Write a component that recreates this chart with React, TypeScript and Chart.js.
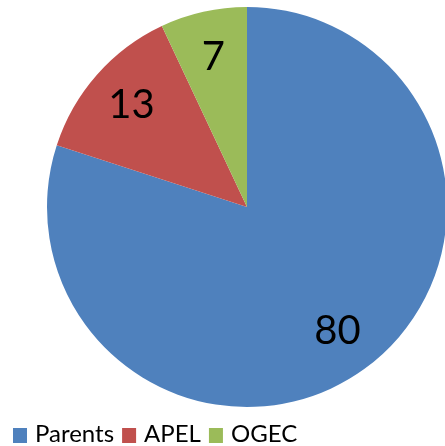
import React, { useEffect, useRef } from "react";
import { Chart, registerables } from "chart.js";

Chart.register(...registerables);

const categories = ["Parents", "APEL", "OGEC"];
const values = [80, 13, 7];
const colors = ["#4F81BD", "#C0504D", "#9BBB59"];

const FONT = "Lato, 'Open Sans', sans-serif";

const labelPlugin = {
  id: "sliceLabels",
  afterDatasetsDraw(chart: any) {
    const ctx = chart.ctx;
    const meta = chart.getDatasetMeta(0);
    ctx.save();
    ctx.fillStyle = "#000";
    ctx.font = `40px ${FONT}`;
    ctx.textAlign = "center";
    ctx.textBaseline = "middle";
    meta.data.forEach((arc: any, i: number) => {
      const { x, y, startAngle, endAngle, outerRadius } = arc.getProps(
        ["x", "y", "startAngle", "endAngle", "outerRadius"],
        true
      );
      const mid = (startAngle + endAngle) / 2;
      const r = outerRadius * 0.77;
      ctx.fillText(String(values[i]), x + Math.cos(mid) * r, y + Math.sin(mid) * r);
    });
    ctx.restore();
  },
};

const legendPlugin = {
  id: "bottomLegend",
  afterDraw(chart: any) {
    const ctx = chart.ctx;
    ctx.save();
    ctx.font = `24px ${FONT}`;
    ctx.textBaseline = "alphabetic";
    ctx.textAlign = "left";
    let x = 13;
    const boxTop = 428;
    const box = 14;
    const baseline = 442;
    categories.forEach((lab, i) => {
      ctx.fillStyle = colors[i];
      ctx.fillRect(x, boxTop, box, box + 1);
      x += box + 8;
      ctx.fillStyle = "#000";
      ctx.fillText(lab, x, baseline);
      x += ctx.measureText(lab).width + 8;
    });
    ctx.restore();
  },
};

export default function App() {
  const ref = useRef<HTMLCanvasElement>(null);
  useEffect(() => {
    if (!ref.current) return;
    const chart = new Chart(ref.current, {
      type: "pie",
      data: {
        labels: categories,
        datasets: [
          {
            data: values,
            backgroundColor: colors,
            borderWidth: 0,
          },
        ],
      },
      options: {
        responsive: false,
        animation: false,
        layout: { padding: { left: 47, right: 3, top: 7, bottom: 39 } },
        plugins: {
          legend: { display: false },
          tooltip: { enabled: false },
        },
      },
      plugins: [labelPlugin, legendPlugin],
    });
    return () => chart.destroy();
  }, []);
  return (
    <div
      style={{
        position: "fixed",
        left: 0,
        top: 0,
        width: 445,
        height: 446,
        overflow: "hidden",
        background: "#fff",
      }}
    >
      <canvas ref={ref} width={450} height={446} style={{ display: "block" }} />
    </div>
  );
}
